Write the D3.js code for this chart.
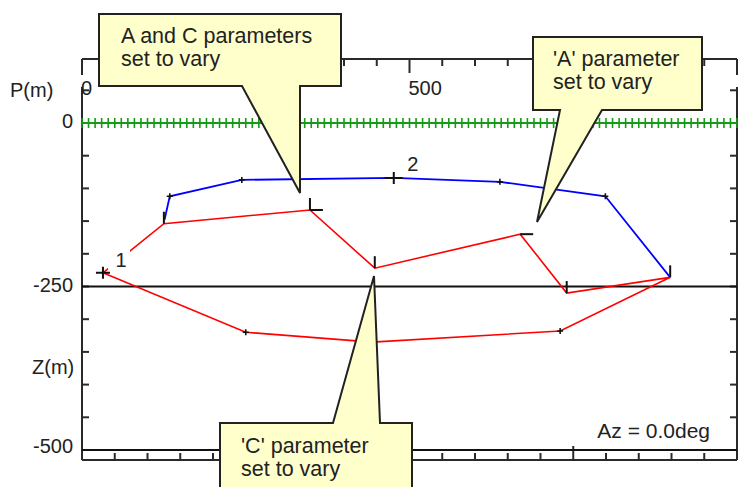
<!DOCTYPE html>
<html><head><meta charset="utf-8">
<script src="https://cdn.jsdelivr.net/npm/d3@7"></script>
<style>
html,body{margin:0;padding:0;background:#fff;overflow:hidden}
svg{display:block;font-family:"Liberation Sans",Arial,sans-serif}
</style></head><body>
<svg id="c" width="740" height="487"></svg>
<script>
// ---------- data ----------
const xTickValues = d3.range(0, 1001, 50);
const xMajorTicks = [0, 250, 500, 750, 1000];
const xTickLabels = [0, 500];
const xLabelGaps = [0, 500, 1000];
const zTickValues = d3.range(50, -501, -50);
const zTickLabels = [0, -250, -500];
const refLineDepths = [-250, -500];
const stationSpacing = 10;

// blue polyline (body top)
const blueX = [126, 134, 244, 476, 638, 799, 898];
const blueZ = [-148, -112, -87, -84, -90, -112, -236];
// upper red polyline with parameter-variation flags
const redUpperX = [32, 125, 348, 447, 669, 740, 898];
const redUpperZ = [-229, -154, -133, -222, -170, -260, -236];
const redUpperVary = ["", "C", "AC", "C", "A", "C", "C"];
// lower red polyline
const redLowerX = [32, 250, 443, 730, 898];
const redLowerZ = [-229, -320, -335, -318, -236];
// numbered points
const pointLabels = ["1", "2"];
const pointX = [32, 476];
const pointZ = [-229, -84];

const azimuthText = "Az = 0.0deg";
const calloutTexts = [
  ["A and C parameters", "set to vary"],
  ["'A' parameter", "set to vary"],
  ["'C' parameter", "set to vary"]
];

// ---------- layout ----------
const svg = d3.select("#c");
const L = 82, R = 737, T = 59, B = 460;
const x = d3.scaleLinear().domain([0, 1000]).range([L, R]);
const y = d3.scaleLinear().domain([0, -500]).range([123, 450]);
const axisColor = "#2a2a2a";
const font = 20;

const g = svg.append("g");
g.append("line").attr("x1", L).attr("x2", R).attr("y1", T).attr("y2", T);
g.append("line").attr("x1", L).attr("x2", R).attr("y1", B).attr("y2", B);
g.append("line").attr("x1", L).attr("x2", L).attr("y1", T).attr("y2", B);
g.append("line").attr("x1", R).attr("x2", R).attr("y1", T).attr("y2", B);
g.selectAll("line").attr("stroke", axisColor).attr("stroke-width", 2);

xTickValues.forEach(v => {
  const major = xMajorTicks.includes(v);
  const len = major ? 14 : 7;
  g.append("line").attr("x1", x(v)).attr("x2", x(v)).attr("y1", T).attr("y2", T + len)
    .attr("stroke", axisColor).attr("stroke-width", 2);
  g.append("line").attr("x1", x(v)).attr("x2", x(v)).attr("y1", B).attr("y2", B - len)
    .attr("stroke", axisColor).attr("stroke-width", 2);
});
zTickValues.forEach(v => {
  g.append("line").attr("x1", L).attr("x2", L + 7).attr("y1", y(v)).attr("y2", y(v))
    .attr("stroke", axisColor).attr("stroke-width", 2);
  g.append("line").attr("x1", R).attr("x2", R - 7).attr("y1", y(v)).attr("y2", y(v))
    .attr("stroke", axisColor).attr("stroke-width", 2);
});

refLineDepths.forEach(d => {
  g.append("line").attr("x1", L).attr("x2", R).attr("y1", y(d)).attr("y2", y(d))
    .attr("stroke", "#111").attr("stroke-width", 2);
});

xLabelGaps.forEach(v => {
  g.append("rect").attr("x", x(v) - 1).attr("y", 75).attr("width", 40).attr("height", 12).attr("fill", "#fff");
});
xTickLabels.forEach(v => {
  g.append("text").attr("x", x(v) - 1).attr("y", 95).attr("font-size", font)
    .attr("fill", "#222").text(v);
});
zTickLabels.forEach(v => {
  g.append("text").attr("x", 73).attr("y", y(v) + (v === -500 ? 3 : 5)).attr("text-anchor", "end")
    .attr("font-size", font).attr("fill", "#222").text(v);
});
g.append("text").attr("x", 10).attr("y", 97).attr("font-size", font).attr("fill", "#222").text("P(m)");
g.append("text").attr("x", 32).attr("y", 374).attr("font-size", font).attr("fill", "#222").text("Z(m)");
g.append("text").attr("x", 710).attr("y", 438).attr("text-anchor", "end").attr("font-size", 21)
  .attr("fill", "#222").text(azimuthText);

const green = "#179a17";
g.append("line").attr("x1", L).attr("x2", R).attr("y1", y(0)).attr("y2", y(0))
  .attr("stroke", green).attr("stroke-width", 2);
d3.range(0, 1001, stationSpacing).forEach(v => {
  g.append("line").attr("x1", x(v)).attr("x2", x(v)).attr("y1", y(0) - 5).attr("y2", y(0) + 5)
    .attr("stroke", green).attr("stroke-width", 1.6);
});

const line = d3.line().x(d => x(d[0])).y(d => y(d[1]));
const zip = (a, b) => a.map((v, i) => [v, b[i]]);
g.append("path").attr("d", line(zip(blueX, blueZ))).attr("fill", "none")
  .attr("stroke", "#0000ff").attr("stroke-width", 1.8);
g.append("path").attr("d", line(zip(redUpperX, redUpperZ))).attr("fill", "none")
  .attr("stroke", "#ff0000").attr("stroke-width", 1.6);
g.append("path").attr("d", line(zip(redLowerX, redLowerZ))).attr("fill", "none")
  .attr("stroke", "#ff0000").attr("stroke-width", 1.6);

function cross(px, py, hw, hh, w) {
  g.append("path").attr("d", `M${px - hw},${py}H${px + hw}M${px},${py - hh}V${py + hh}`)
    .attr("stroke", "#111").attr("stroke-width", w).attr("fill", "none");
}
blueX.forEach((v, i) => {
  if (i === 0 || i === blueX.length - 1) return;
  if (pointX.includes(v)) return;
  cross(x(v), y(blueZ[i]), 3, 3, 1.6);
});
redLowerX.forEach((v, i) => {
  if (i === 0 || i === redLowerX.length - 1) return;
  cross(x(v), y(redLowerZ[i]), 3, 3, 1.6);
});
redUpperX.forEach((v, i) => {
  const f = redUpperVary[i];
  const px = x(v), py = y(redUpperZ[i]);
  if (f.includes("C")) g.append("line").attr("x1", px).attr("x2", px).attr("y1", py).attr("y2", py - 12)
    .attr("stroke", "#111").attr("stroke-width", 2);
  if (f.includes("A")) g.append("line").attr("x1", px).attr("x2", px + 13).attr("y1", py).attr("y2", py)
    .attr("stroke", "#111").attr("stroke-width", 2);
});
pointX.forEach((v, i) => {
  const px = x(v), py = y(pointZ[i]);
  cross(px, py, i === 0 ? 7 : 9, 6, 2);
  const lx = px + (i === 0 ? 18 : 19), ly = py - (i === 0 ? 13 : 14);
  g.append("rect").attr("x", lx - 13).attr("y", ly - 10).attr("width", 22).attr("height", 20).attr("fill", "#fff");
  g.append("text").attr("x", lx).attr("y", ly + 7).attr("text-anchor", "middle")
    .attr("font-size", font).attr("fill", "#222").text(pointLabels[i]);
});

const callouts = [
  { path: "M99,14H341V86H300L300,193L242,86H99Z", tx: 121, ty: 43 },
  { path: "M533,37H702V110H602L537,222L560,110H533Z", tx: 553, ty: 66 },
  { path: "M220,423H333L374,276L380,423H412V500H220Z", tx: 241, ty: 453 }
];
callouts.forEach((c, i) => {
  svg.append("path").attr("d", c.path).attr("fill", "#ffffcc").attr("stroke", "#222")
    .attr("stroke-width", 2).attr("stroke-linejoin", "miter");
  calloutTexts[i].forEach((t, j) => {
    svg.append("text").attr("x", c.tx).attr("y", c.ty + j * 23).attr("font-size", 21.5)
      .attr("fill", "#222").text(t);
  });
});
</script></body></html>
